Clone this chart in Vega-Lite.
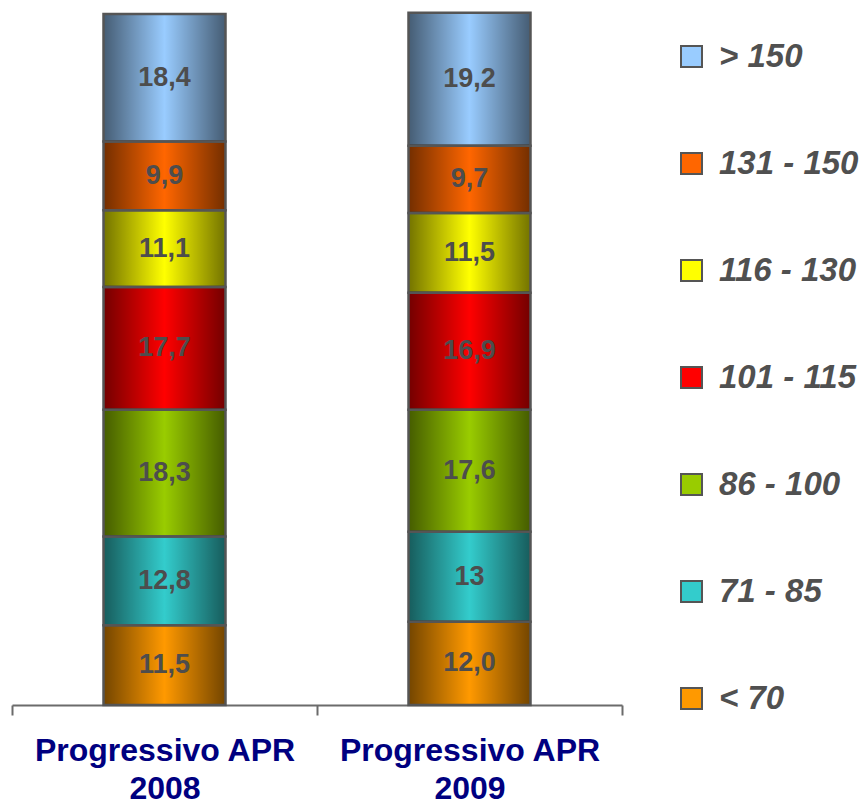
{
  "$schema": "https://vega.github.io/schema/vega-lite/v6.json",
  "width": 610,
  "height": 693,
  "autosize": {"type": "none"},
  "padding": {"left": 12, "top": 12, "right": 243, "bottom": 100},
  "background": "white",
  "config": {"view": {"stroke": null}, "font": "Liberation Sans"},
  "data": {"values": [
    {"year": "Progressivo APR 2008", "cat": "< 70", "rank": 1, "value": 11.5, "label": "11,5"},
    {"year": "Progressivo APR 2008", "cat": "71 - 85", "rank": 2, "value": 12.8, "label": "12,8"},
    {"year": "Progressivo APR 2008", "cat": "86 - 100", "rank": 3, "value": 18.3, "label": "18,3"},
    {"year": "Progressivo APR 2008", "cat": "101 - 115", "rank": 4, "value": 17.7, "label": "17,7"},
    {"year": "Progressivo APR 2008", "cat": "116 - 130", "rank": 5, "value": 11.1, "label": "11,1"},
    {"year": "Progressivo APR 2008", "cat": "131 - 150", "rank": 6, "value": 9.9, "label": "9,9"},
    {"year": "Progressivo APR 2008", "cat": "> 150", "rank": 7, "value": 18.4, "label": "18,4"},
    {"year": "Progressivo APR 2009", "cat": "< 70", "rank": 1, "value": 12.0, "label": "12,0"},
    {"year": "Progressivo APR 2009", "cat": "71 - 85", "rank": 2, "value": 13, "label": "13"},
    {"year": "Progressivo APR 2009", "cat": "86 - 100", "rank": 3, "value": 17.6, "label": "17,6"},
    {"year": "Progressivo APR 2009", "cat": "101 - 115", "rank": 4, "value": 16.9, "label": "16,9"},
    {"year": "Progressivo APR 2009", "cat": "116 - 130", "rank": 5, "value": 11.5, "label": "11,5"},
    {"year": "Progressivo APR 2009", "cat": "131 - 150", "rank": 6, "value": 9.7, "label": "9,7"},
    {"year": "Progressivo APR 2009", "cat": "> 150", "rank": 7, "value": 19.2, "label": "19,2"}
  ]},
  "encoding": {
    "x": {
      "field": "year", "type": "nominal", "title": null,
      "scale": {"paddingInner": 0, "paddingOuter": 0},
      "axis": {
        "labelAngle": 0, "tickBand": "extent", "tickSize": 10, "tickWidth": 2, "tickColor": "#6b6b6b",
        "domainColor": "#6b6b6b", "domainWidth": 2,
        "labelFont": "Liberation Sans", "labelFontSize": 32, "labelFontWeight": "bold", "labelColor": "#000080",
        "labelPadding": 20, "labelLineHeight": 38, "labelBaseline": "top", "labelLimit": 400,
        "labelExpr": "datum.label ? ['Progressivo APR', substring(datum.label, 16)] : ''"
      }
    },
    "y": {"field": "value", "type": "quantitative", "stack": "zero", "scale": {"domain": [0, 100], "nice": false}, "axis": null},
    "order": {"field": "rank", "type": "quantitative"}
  },
  "layer": [
    {
      "mark": {"type": "bar", "width": {"band": 0.4}},
      "encoding": {
        "color": {
          "field": "cat", "type": "nominal",
          "scale": {
            "domain": ["> 150", "131 - 150", "116 - 130", "101 - 115", "86 - 100", "71 - 85", "< 70"],
            "range": ["#99ccff", "#ff6600", "#ffff00", "#ff0000", "#99cc00", "#33cccc", "#ff9900"]
          },
          "legend": {
            "title": null, "orient": "none", "legendX": 663, "legendY": 28,
            "padding": 0, "symbolType": "square", "symbolSize": 441, "symbolOpacity": 1, "symbolStrokeColor": "#555555", "symbolStrokeWidth": 2,
            "labelFont": "Liberation Sans", "labelFontSize": 33, "labelFontWeight": "bold", "labelFontStyle": "italic",
            "labelColor": "#505050", "labelOffset": 11, "rowPadding": 73, "labelLimit": 300
          }
        }
      }
    },
    {
      "mark": {
        "type": "bar", "width": {"band": 0.4}, "stroke": "#555555", "strokeWidth": 2.5,
        "fill": {"gradient": "linear", "x1": 0, "y1": 0, "x2": 1, "y2": 0, "stops": [
          {"offset": 0, "color": "rgba(0,0,0,0.55)"},
          {"offset": 0.5, "color": "rgba(0,0,0,0)"},
          {"offset": 1, "color": "rgba(0,0,0,0.55)"}
        ]}
      },
      "encoding": {"detail": {"field": "cat"}}
    },
    {
      "mark": {"type": "text", "font": "Liberation Sans", "fontSize": 27, "fontWeight": "bold", "color": "#4d4d4d", "baseline": "middle"},
      "encoding": {
        "y": {"field": "value", "type": "quantitative", "stack": "zero", "bandPosition": 0.5},
        "detail": {"field": "cat"},
        "text": {"field": "label"}
      }
    }
  ]
}
